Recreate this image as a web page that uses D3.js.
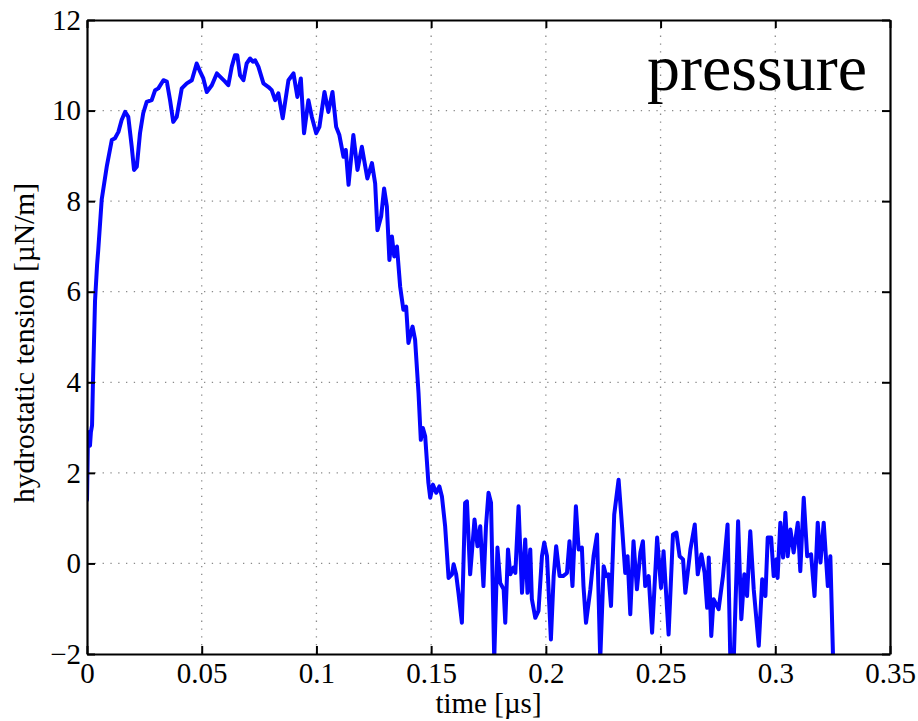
<!DOCTYPE html>
<html>
<head>
<meta charset="utf-8">
<script src="https://cdn.jsdelivr.net/npm/d3@7"></script>
<style>
  body { margin: 0; background: #fff; }
  svg text { font-family: "Liberation Serif", "DejaVu Serif", serif; fill: #000; }
</style>
</head>
<body>
<svg id="chart" width="918" height="721"></svg>
<script>
// time [µs] and hydrostatic tension [µN/m]
const timeUs = [
  0, 0.0004, 0.0009, 0.0013, 0.0017, 0.0022, 0.0026, 0.0035, 0.0044, 0.0049,
  0.0064, 0.0086, 0.0108, 0.0122, 0.0137, 0.0151, 0.0166, 0.0180, 0.0195, 0.0205,
  0.0217, 0.0231, 0.0245, 0.0260, 0.0282, 0.0297, 0.0311, 0.0333, 0.0348, 0.0362,
  0.0376, 0.0391, 0.0413, 0.0435, 0.0457, 0.0478, 0.0493, 0.0507, 0.0522, 0.0544,
  0.0566, 0.0580, 0.0602, 0.0616, 0.0631, 0.0645, 0.0655, 0.0667, 0.0682, 0.0696,
  0.0711, 0.0723, 0.0733, 0.0747, 0.0769, 0.0791, 0.0805, 0.0820, 0.0834, 0.0853,
  0.0878, 0.0900, 0.0917, 0.0932, 0.0946, 0.0965, 0.0980, 0.0999, 0.1013, 0.1035,
  0.1052, 0.1070, 0.1086, 0.1100, 0.1118, 0.1128, 0.1140, 0.1161, 0.1179, 0.1198,
  0.1222, 0.1242, 0.1256, 0.1266, 0.1282, 0.1295, 0.1307, 0.1318, 0.1329, 0.1339,
  0.1351, 0.1365, 0.1379, 0.1391, 0.1401, 0.1419, 0.1430, 0.1445, 0.1455, 0.1464,
  0.1474, 0.1488, 0.1496, 0.1508, 0.1522, 0.1536, 0.1547, 0.1561, 0.1576, 0.1591,
  0.1598, 0.1609, 0.1619, 0.1634, 0.1648, 0.1656, 0.1670, 0.1689, 0.1702, 0.1714,
  0.1728, 0.1739, 0.1750, 0.1761, 0.1775, 0.1789, 0.1801, 0.1816, 0.1823, 0.1835,
  0.1845, 0.1859, 0.1867, 0.1881, 0.1896, 0.1910, 0.1920, 0.1932, 0.1939, 0.1954,
  0.1968, 0.1983, 0.1993, 0.2005, 0.2022, 0.2034, 0.2045, 0.2060, 0.2075, 0.2092,
  0.2103, 0.2116, 0.2131, 0.2143, 0.2157, 0.2164, 0.2175, 0.2194, 0.2208, 0.2223,
  0.2237, 0.2252, 0.2263, 0.2273, 0.2284, 0.2298, 0.2317, 0.2332, 0.2346, 0.2356,
  0.2368, 0.2382, 0.2397, 0.2412, 0.2423, 0.2433, 0.2448, 0.2463, 0.2485, 0.2502,
  0.2513, 0.2535, 0.2554, 0.2569, 0.2583, 0.2598, 0.2608, 0.2630, 0.2649, 0.2662,
  0.2678, 0.2692, 0.2703, 0.2710, 0.2721, 0.2731, 0.2753, 0.2772, 0.2792, 0.2804,
  0.2819, 0.2838, 0.2852, 0.2865, 0.2877, 0.2891, 0.2906, 0.2928, 0.2943, 0.2957,
  0.2967, 0.2982, 0.2993, 0.3005, 0.3010, 0.3022, 0.3034, 0.3044, 0.3054, 0.3066,
  0.3080, 0.3098, 0.3109, 0.3124, 0.3139, 0.3156, 0.3171, 0.3185, 0.3197, 0.3211,
  0.3229, 0.3240, 0.3252
];
const tension = [
  1.4, 2.73, 2.9, 2.6, 2.9, 3.05, 4.0, 5.8, 6.6, 6.92,
  8.03, 8.76, 9.35, 9.39, 9.53, 9.79, 9.97, 9.86, 9.20, 8.69,
  8.76, 9.50, 9.94, 10.19, 10.23, 10.45, 10.49, 10.67, 10.64, 10.23,
  9.75, 9.86, 10.49, 10.60, 10.67, 11.04, 10.86, 10.71, 10.41, 10.56,
  10.82, 10.75, 10.64, 10.56, 10.97, 11.22, 11.22, 10.78, 10.67, 11.04,
  11.15, 11.08, 11.11, 10.97, 10.60, 10.52, 10.45, 10.23, 10.38, 9.83,
  10.67, 10.82, 10.30, 10.71, 9.50, 10.23, 9.86, 9.50, 9.64, 10.41,
  9.97, 10.41, 9.64, 9.46, 8.98, 9.13, 8.36, 9.46, 8.69, 9.20,
  8.50, 8.84, 8.39, 7.36, 7.66, 8.28, 7.88, 6.70, 7.22, 6.78,
  7.00, 6.11, 5.60, 5.67, 4.87, 5.23, 4.94, 3.76, 2.73, 2.99,
  2.81, 1.78, 1.45, 1.74, 1.56, 1.70, 1.48, 0.82, -0.32, -0.24,
  -0.02, -0.24, -0.65, -1.31, 1.34, 1.37, -0.24, 0.97, 0.38, 0.82,
  -0.50, 0.82, 1.56, 1.34, -2.12, 0.35, -0.43, -0.57, -1.31, 0.31,
  -0.24, -0.09, -0.21, 1.26, -0.65, 0.53, -0.65, 0.31, -0.79, -1.20,
  -1.05, 0.16, 0.46, 0.16, -1.68, -0.28, 0.38, -0.28, -0.28, -0.21,
  0.49, -0.50, 1.26, 0.31, 0.35, -0.50, -1.31, -0.57, 0.16, 0.64,
  -2.12, -0.06, -0.28, -0.24, -0.94, 1.08, 1.85, 0.82, -0.21, 0.16,
  -1.12, 0.49, -0.57, 0.24, 0.49, -0.50, -0.28, -1.53, 0.57, -0.54,
  0.27, -1.57, 0.64, 0.68, 0.16, 0.09, -0.65, 0.31, 0.86, -0.24,
  0.20, -0.21, -0.98, 0.13, -1.60, -0.79, -1.01, -0.28, 0.86, -2.12,
  -2.12, 0.93, -1.23, -0.24, -0.72, 0.71, -0.57, -1.82, -0.35, -0.72,
  0.57, 0.57, -0.28, 0.09, -0.32, 0.90, 0.13, 1.12, 0.16, 0.75,
  0.24, 0.90, -0.17, 1.45, 0.16, 0.20, -0.72, 0.90, 0.02, 0.90,
  -0.50, 0.16, -2.12
];

const xTicks = [0, 0.05, 0.1, 0.15, 0.2, 0.25, 0.3, 0.35];
const xTickLabels = ['0', '0.05', '0.1', '0.15', '0.2', '0.25', '0.3', '0.35'];
const yTicks = [-2, 0, 2, 4, 6, 8, 10, 12];
const yTickLabels = ['\u22122', '0', '2', '4', '6', '8', '10', '12'];

const points = timeUs.map((t, i) => ({ t: t, v: tension[i] }));

const svg = d3.select('#chart');
const plotLeft = 87, plotRight = 890, plotTop = 20, plotBottom = 654;

const x = d3.scaleLinear().domain([0, 0.35]).range([plotLeft, plotRight]);
const y = d3.scaleLinear().domain([-2, 12]).range([plotBottom, plotTop]);

// dotted grid
const grid = svg.append('g').attr('class', 'grid');
grid.selectAll('line.gx')
    .data(xTicks.slice(1, -1))
    .enter()
    .append('line')
    .attr('x1', d => x(d)).attr('x2', d => x(d))
    .attr('y1', plotTop).attr('y2', plotBottom)
    .attr('stroke', '#8a8a8a')
    .attr('stroke-width', 1.3)
    .attr('stroke-dasharray', '1.3,6.5');
grid.selectAll('line.gy')
    .data(yTicks.slice(1, -1))
    .enter()
    .append('line')
    .attr('x1', plotLeft).attr('x2', plotRight)
    .attr('y1', d => y(d)).attr('y2', d => y(d))
    .attr('stroke', '#8a8a8a')
    .attr('stroke-width', 1.3)
    .attr('stroke-dasharray', '1.3,6.5');

// curve, clipped to the axes box
svg.append('clipPath').attr('id', 'plot-clip')
    .append('rect')
    .attr('x', plotLeft).attr('y', plotTop)
    .attr('width', plotRight - plotLeft).attr('height', plotBottom - plotTop);

const line = d3.line()
    .defined(d => d.v != null)
    .x(d => x(d.t))
    .y(d => y(d.v));

svg.append('path')
    .datum(points)
    .attr('clip-path', 'url(#plot-clip)')
    .attr('fill', 'none')
    .attr('stroke', '#0505ff')
    .attr('stroke-width', 4)
    .attr('stroke-linejoin', 'round')
    .attr('stroke-linecap', 'round')
    .attr('d', line);

// axes box with inward ticks on all sides (matlab style)
const tickLen = 8;

svg.append('g')
    .attr('transform', `translate(0,${plotBottom})`)
    .call(d3.axisBottom(x).tickValues(xTicks).tickSizeInner(-tickLen).tickSizeOuter(0)
        .tickFormat((d, i) => xTickLabels[i]).tickPadding(8))
    .call(g => g.selectAll('text').attr('font-size', 29));

svg.append('g')
    .attr('transform', `translate(0,${plotTop})`)
    .call(d3.axisTop(x).tickValues(xTicks).tickSizeInner(-tickLen).tickSizeOuter(0).tickFormat(''));

svg.append('g')
    .attr('transform', `translate(${plotLeft},0)`)
    .call(d3.axisLeft(y).tickValues(yTicks).tickSizeInner(-tickLen).tickSizeOuter(0)
        .tickFormat((d, i) => yTickLabels[i]).tickPadding(6))
    .call(g => g.selectAll('text').attr('font-size', 29));

svg.append('g')
    .attr('transform', `translate(${plotRight},0)`)
    .call(d3.axisRight(y).tickValues(yTicks).tickSizeInner(-tickLen).tickSizeOuter(0).tickFormat(''));

svg.selectAll('.domain').attr('stroke', '#000').attr('stroke-width', 2.2);
svg.selectAll('.tick line').attr('stroke', '#000').attr('stroke-width', 2);
svg.selectAll('.tick text').attr('fill', '#000').attr('font-family', '"Liberation Serif", serif');

// labels
svg.append('text')
    .attr('x', (plotLeft + plotRight) / 2)
    .attr('y', 713)
    .attr('text-anchor', 'middle')
    .attr('font-size', 29)
    .text('time [\u00b5s]');

svg.append('text')
    .attr('transform', `translate(34,343) rotate(-90)`)
    .attr('text-anchor', 'middle')
    .attr('font-size', 29.5)
    .text('hydrostatic tension [\u00b5N/m]');

svg.append('text')
    .attr('x', 867)
    .attr('y', 90)
    .attr('text-anchor', 'end')
    .attr('font-size', 66)
    .text('pressure');
</script>
</body>
</html>
